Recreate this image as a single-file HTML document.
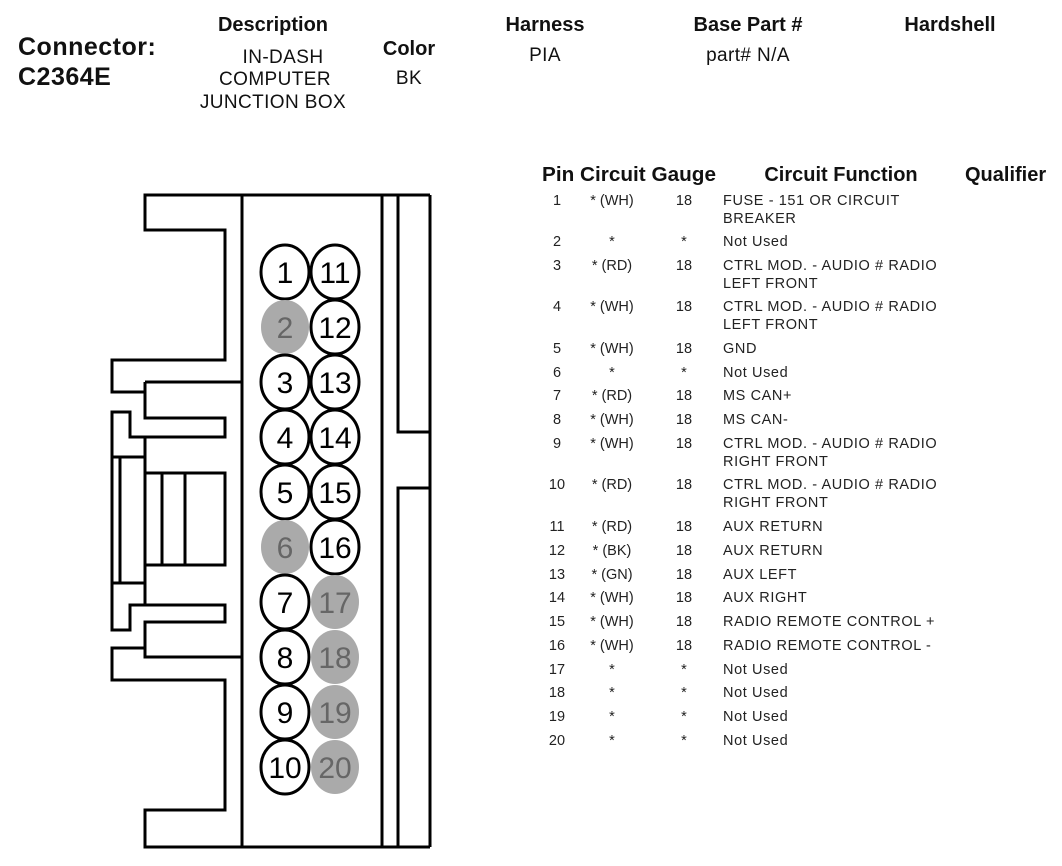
<!DOCTYPE html>
<html><head><style>body{margin:0;background:#fff}svg{display:block}</style></head><body>
<svg width="1062" height="866" viewBox="0 0 1062 866" xmlns="http://www.w3.org/2000/svg" font-family="Liberation Sans, Arial, sans-serif">
<g font-weight="bold" fill="#111">
<text x="18" y="55" font-size="25" letter-spacing="0.5">Connector:</text>
<text x="18" y="85" font-size="25" letter-spacing="0.5">C2364E</text>
<text x="273" y="31" font-size="20" text-anchor="middle">Description</text>
<text x="409" y="55" font-size="20" text-anchor="middle">Color</text>
<text x="545" y="31" font-size="20" text-anchor="middle">Harness</text>
<text x="748" y="31" font-size="20" text-anchor="middle">Base Part #</text>
<text x="950" y="31" font-size="20" text-anchor="middle">Hardshell</text>
<text x="542" y="181" font-size="20" textLength="174" lengthAdjust="spacingAndGlyphs">Pin Circuit Gauge</text>
<text x="841" y="181" font-size="20" text-anchor="middle">Circuit Function</text>
<text x="965" y="181" font-size="20">Qualifier</text>
</g>
<g font-size="19" fill="#111" text-anchor="middle" letter-spacing="0.4">
<text x="283" y="63">IN-DASH</text>
<text x="275" y="85">COMPUTER</text>
<text x="273" y="108">JUNCTION BOX</text>
<text x="409" y="84">BK</text>
<text x="545" y="61">PIA</text>
<text x="748" y="61">part# N/A</text>
</g>
<g fill="none" stroke="#000" stroke-width="3">
<path d="M430 195 H145 V230 H225 V360 H112 V392 H145"/>
<path d="M242 195 V847"/>
<path d="M382 195 V847 M398 195 V432 H430 M398 847 V488 H430 M430 195 V847"/>
<path d="M145 382 H242 M145 382 V418 H225 V437 H130 V412 H112 V630 H130 V605 H225 V622 H145 V657 H242"/>
<path d="M120 457 V583 M112 457 H145 M112 583 H145 M145 437 V605"/>
<path d="M145 473 H225 V565 H145 M162 473 V565 M185 473 V565"/>
<path d="M145 648 H112 V680 H225 V810 H145 V847 H430"/>
</g>
<g font-size="30" text-anchor="middle">
<ellipse cx="285" cy="272" rx="24" ry="27" fill="#fff" stroke="#000" stroke-width="3"/><text x="285" y="283">1</text>
<ellipse cx="285" cy="327" rx="24" ry="27" fill="#aaa"/><text x="285" y="338" fill="#666">2</text>
<ellipse cx="285" cy="382" rx="24" ry="27" fill="#fff" stroke="#000" stroke-width="3"/><text x="285" y="393">3</text>
<ellipse cx="285" cy="437" rx="24" ry="27" fill="#fff" stroke="#000" stroke-width="3"/><text x="285" y="448">4</text>
<ellipse cx="285" cy="492" rx="24" ry="27" fill="#fff" stroke="#000" stroke-width="3"/><text x="285" y="503">5</text>
<ellipse cx="285" cy="547" rx="24" ry="27" fill="#aaa"/><text x="285" y="558" fill="#666">6</text>
<ellipse cx="285" cy="602" rx="24" ry="27" fill="#fff" stroke="#000" stroke-width="3"/><text x="285" y="613">7</text>
<ellipse cx="285" cy="657" rx="24" ry="27" fill="#fff" stroke="#000" stroke-width="3"/><text x="285" y="668">8</text>
<ellipse cx="285" cy="712" rx="24" ry="27" fill="#fff" stroke="#000" stroke-width="3"/><text x="285" y="723">9</text>
<ellipse cx="285" cy="767" rx="24" ry="27" fill="#fff" stroke="#000" stroke-width="3"/><text x="285" y="778">10</text>
<ellipse cx="335" cy="272" rx="24" ry="27" fill="#fff" stroke="#000" stroke-width="3"/><text x="335" y="283">11</text>
<ellipse cx="335" cy="327" rx="24" ry="27" fill="#fff" stroke="#000" stroke-width="3"/><text x="335" y="338">12</text>
<ellipse cx="335" cy="382" rx="24" ry="27" fill="#fff" stroke="#000" stroke-width="3"/><text x="335" y="393">13</text>
<ellipse cx="335" cy="437" rx="24" ry="27" fill="#fff" stroke="#000" stroke-width="3"/><text x="335" y="448">14</text>
<ellipse cx="335" cy="492" rx="24" ry="27" fill="#fff" stroke="#000" stroke-width="3"/><text x="335" y="503">15</text>
<ellipse cx="335" cy="547" rx="24" ry="27" fill="#fff" stroke="#000" stroke-width="3"/><text x="335" y="558">16</text>
<ellipse cx="335" cy="602" rx="24" ry="27" fill="#aaa"/><text x="335" y="613" fill="#666">17</text>
<ellipse cx="335" cy="657" rx="24" ry="27" fill="#aaa"/><text x="335" y="668" fill="#666">18</text>
<ellipse cx="335" cy="712" rx="24" ry="27" fill="#aaa"/><text x="335" y="723" fill="#666">19</text>
<ellipse cx="335" cy="767" rx="24" ry="27" fill="#aaa"/><text x="335" y="778" fill="#666">20</text>
</g>
<g font-size="14.5" fill="#222">
<g text-anchor="middle">
<text x="557" y="205">1</text><text x="612" y="205">* (WH)</text><text x="684" y="205">18</text>
<text x="557" y="246">2</text><text x="612" y="246">*</text><text x="684" y="246">*</text>
<text x="557" y="270">3</text><text x="612" y="270">* (RD)</text><text x="684" y="270">18</text>
<text x="557" y="311">4</text><text x="612" y="311">* (WH)</text><text x="684" y="311">18</text>
<text x="557" y="353">5</text><text x="612" y="353">* (WH)</text><text x="684" y="353">18</text>
<text x="557" y="377">6</text><text x="612" y="377">*</text><text x="684" y="377">*</text>
<text x="557" y="400">7</text><text x="612" y="400">* (RD)</text><text x="684" y="400">18</text>
<text x="557" y="424">8</text><text x="612" y="424">* (WH)</text><text x="684" y="424">18</text>
<text x="557" y="448">9</text><text x="612" y="448">* (WH)</text><text x="684" y="448">18</text>
<text x="557" y="489">10</text><text x="612" y="489">* (RD)</text><text x="684" y="489">18</text>
<text x="557" y="531">11</text><text x="612" y="531">* (RD)</text><text x="684" y="531">18</text>
<text x="557" y="555">12</text><text x="612" y="555">* (BK)</text><text x="684" y="555">18</text>
<text x="557" y="579">13</text><text x="612" y="579">* (GN)</text><text x="684" y="579">18</text>
<text x="557" y="602">14</text><text x="612" y="602">* (WH)</text><text x="684" y="602">18</text>
<text x="557" y="626">15</text><text x="612" y="626">* (WH)</text><text x="684" y="626">18</text>
<text x="557" y="650">16</text><text x="612" y="650">* (WH)</text><text x="684" y="650">18</text>
<text x="557" y="674">17</text><text x="612" y="674">*</text><text x="684" y="674">*</text>
<text x="557" y="697">18</text><text x="612" y="697">*</text><text x="684" y="697">*</text>
<text x="557" y="721">19</text><text x="612" y="721">*</text><text x="684" y="721">*</text>
<text x="557" y="745">20</text><text x="612" y="745">*</text><text x="684" y="745">*</text>
</g>
<g letter-spacing="0.6">
<text x="723" y="205">FUSE - 151 OR CIRCUIT</text><text x="723" y="223">BREAKER</text>
<text x="723" y="246">Not Used</text>
<text x="723" y="270">CTRL MOD. - AUDIO # RADIO</text><text x="723" y="288">LEFT FRONT</text>
<text x="723" y="311">CTRL MOD. - AUDIO # RADIO</text><text x="723" y="329">LEFT FRONT</text>
<text x="723" y="353">GND</text>
<text x="723" y="377">Not Used</text>
<text x="723" y="400">MS CAN+</text>
<text x="723" y="424">MS CAN-</text>
<text x="723" y="448">CTRL MOD. - AUDIO # RADIO</text><text x="723" y="466">RIGHT FRONT</text>
<text x="723" y="489">CTRL MOD. - AUDIO # RADIO</text><text x="723" y="507">RIGHT FRONT</text>
<text x="723" y="531">AUX RETURN</text>
<text x="723" y="555">AUX RETURN</text>
<text x="723" y="579">AUX LEFT</text>
<text x="723" y="602">AUX RIGHT</text>
<text x="723" y="626">RADIO REMOTE CONTROL +</text>
<text x="723" y="650">RADIO REMOTE CONTROL -</text>
<text x="723" y="674">Not Used</text>
<text x="723" y="697">Not Used</text>
<text x="723" y="721">Not Used</text>
<text x="723" y="745">Not Used</text>
</g>
</g>
</svg>
</body></html>
